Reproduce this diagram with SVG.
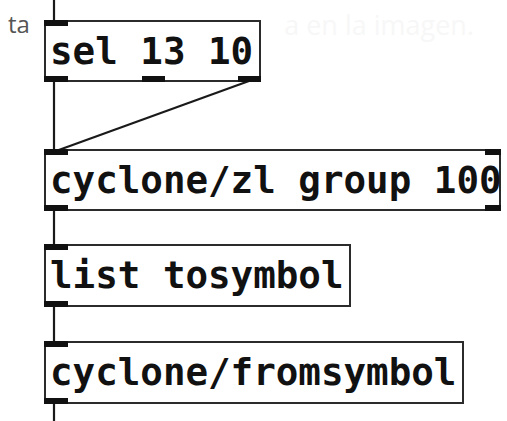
<svg xmlns="http://www.w3.org/2000/svg" width="507" height="421" viewBox="0 0 507 421">
<style>
.box{fill:#fff;stroke:#2b2b2b;stroke-width:2}
.port{fill:#111}
.t{font-family:"DejaVu Sans Mono",monospace;font-weight:bold;font-size:37.5px;fill:#111}
.wire{stroke:#1a1a1a;stroke-width:2.2;fill:none}
</style>
<rect width="507" height="421" fill="#fff"/>
<text x="474" y="35" text-anchor="end" font-family="Open Sans, sans-serif" font-size="27" fill="#f7f7f7">a en la imagen.</text>
<text x="8" y="33" font-family="Open Sans, sans-serif" font-size="24" fill="#555">ta</text>
<g id="connectors">
<line class="wire" x1="54" y1="0" x2="54" y2="22"/>
<line class="wire" x1="54" y1="80" x2="54" y2="151"/>
<line class="wire" x1="249" y1="81" x2="56" y2="151"/>
<line class="wire" x1="54" y1="209" x2="54" y2="246"/>
<line class="wire" x1="54" y1="305" x2="54" y2="342"/>
<line class="wire" x1="54" y1="402" x2="54" y2="421"/>
</g>
<g id="sel">
<rect class="box" x="45" y="21" width="215" height="60"/>
<rect class="port" x="44" y="20" width="24" height="6"/>
<rect class="port" x="44" y="76" width="24" height="6"/>
<rect class="port" x="142" y="76" width="23" height="6"/>
<rect class="port" x="238" y="76" width="23" height="6"/>
<text class="t" x="50" y="64">sel 13 10</text>
</g>
<g id="zlgroup">
<rect class="box" x="45" y="150" width="455" height="60"/>
<rect class="port" x="44" y="149" width="24" height="6"/>
<rect class="port" x="485" y="149" width="16" height="6"/>
<rect class="port" x="44" y="205" width="24" height="6"/>
<rect class="port" x="485" y="205" width="16" height="6"/>
<text class="t" x="50" y="193">cyclone/zl group 100</text>
</g>
<g id="listtosymbol">
<rect class="box" x="45" y="245" width="305" height="61"/>
<rect class="port" x="44" y="244" width="24" height="6"/>
<rect class="port" x="44" y="301" width="24" height="6"/>
<text class="t" x="50" y="288">list tosymbol</text>
</g>
<g id="fromsymbol">
<rect class="box" x="45" y="342" width="418" height="61"/>
<rect class="port" x="44" y="341" width="24" height="6"/>
<rect class="port" x="44" y="398" width="24" height="6"/>
<text class="t" x="50" y="385">cyclone/fromsymbol</text>
</g>
</svg>
